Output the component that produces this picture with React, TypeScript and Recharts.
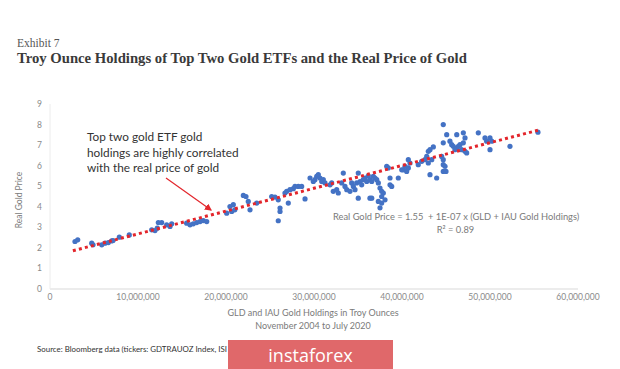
import React from "react";
import { Scatter, ScatterChart, XAxis, YAxis } from "recharts";

// holdings in millions of troy ounces
const holdings = [
  2.84, 3.15, 4.74, 4.89, 5.88, 6.25, 6.63, 7.01, 7.16, 7.88, 9.01,
  11.56, 11.93, 12.19, 12.31, 12.69, 13.26, 13.64, 13.83, 15.53, 15.91,
  16.28, 16.67, 17.05, 17.42, 17.81, 20.08, 20.45, 20.83, 20.65, 21.0,
  21.97, 22.27, 22.53, 22.73, 23.49, 25.19, 25.57, 25.94, 26.14, 26.14,
  25.94, 26.7, 26.9, 27.27, 27.65, 27.08, 27.84, 28.22, 28.6, 28.98,
  29.55, 29.92, 30.11, 30.31, 30.49, 30.68, 30.88, 31.06, 31.25, 31.82,
  32.01, 32.19, 32.58, 32.76, 33.15, 33.33, 33.52, 33.72, 34.09, 34.28,
  34.47, 34.66, 34.85, 35.03, 35.23, 35.42, 35.6, 35.8, 35.99, 36.17,
  36.36, 36.56, 36.74, 36.93, 37.13, 37.31, 37.5, 37.69, 37.88, 37.69,
  38.07, 37.31, 37.69, 35.03, 36.36, 36.56, 37.5, 38.26, 38.44, 38.64,
  38.64, 38.83, 39.58, 39.97, 40.15, 40.34, 40.53, 40.72, 40.72, 40.91,
  41.85, 42.24, 42.61, 42.81, 42.99, 43.38, 42.99, 43.18, 43.56, 43.18,
  43.94, 44.51, 44.69, 44.69, 44.89, 44.69, 45.0, 44.69, 45.08, 44.69,
  45.45, 45.65, 45.83, 46.02, 46.22, 46.4, 46.59, 46.78, 46.97, 47.16,
  46.97, 46.22, 47.16, 47.35, 48.67, 49.43, 49.62, 50.0, 50.19, 50.0,
  52.27, 55.45,
];

const realPrice = [
  2.31, 2.39, 2.23, 2.15, 2.15, 2.23, 2.26, 2.34, 2.36, 2.52, 2.63,
  2.88, 2.84, 2.96, 3.23, 3.23, 3.12, 3.04, 3.17, 3.2, 3.12,
  3.17, 3.23, 3.28, 3.33, 3.28, 3.69, 4.01, 4.1, 3.77, 3.85,
  4.55, 4.5, 4.26, 3.85, 4.18, 4.5, 4.47, 4.34, 3.94, 3.77,
  3.32, 4.67, 4.75, 4.83, 4.88, 4.18, 4.99, 4.99, 4.99, 4.38,
  5.4, 5.23, 5.32, 5.48, 5.56, 5.4, 5.23, 5.32, 5.16, 5.07,
  5.16, 4.75, 4.83, 4.67, 5.16, 5.64, 4.99, 4.83, 4.75, 5.16,
  4.99, 4.83, 5.16, 5.64, 5.23, 5.07, 5.32, 5.4, 5.23, 5.51,
  5.32, 5.23, 5.48, 5.4, 5.32, 5.16, 4.91, 4.75, 4.67, 4.5,
  4.34, 4.26, 4.18, 4.42, 4.42, 4.42, 3.95, 5.97, 5.89, 5.4,
  5.07, 4.99, 5.4, 5.8, 5.8, 5.97, 5.72, 5.89, 6.29, 6.13,
  6.05, 6.21, 6.29, 6.45, 6.13, 6.29, 6.7, 6.78, 6.91, 5.56,
  5.4, 6.45, 6.29, 6.05, 5.97, 5.72, 5.72, 8.0, 7.51, 7.11,
  7.19, 7.02, 6.94, 6.78, 6.86, 6.94, 7.02, 6.78, 7.11, 7.35,
  7.6, 7.51, 6.7, 6.62, 7.6, 7.35, 7.19, 7.35, 7.19, 6.78,
  6.94, 7.63,
];

// fitted trend, start and end of the dotted line
const trendHoldings = [2.6, 55.7];
const trendPrice = [1.86, 7.75];

const xTicks = [0, 10, 20, 30, 40, 50, 60];
const yTicks = [0, 1, 2, 3, 4, 5, 6, 7, 8, 9];

const points = holdings.map((h, i) => ({ x: h * 1e6, y: realPrice[i] }));
const trend = trendHoldings.map((h, i) => ({ x: h * 1e6, y: trendPrice[i] }));

const sans = "Lato, 'Open Sans', sans-serif";
const tickStyle = { fontSize: 8.5, fill: "#8a8a8a", fontFamily: sans };

const Dot = (props: any) => (
  <circle cx={props.cx} cy={props.cy} r={2.6} fill="#4472c4" />
);

export default function App() {
  return (
    <div
      style={{
        position: "absolute",
        left: 0,
        top: 0,
        width: 620,
        height: 369,
        background: "#fff",
        overflow: "hidden",
      }}
    >
      <div
        style={{
          position: "absolute",
          left: 17,
          top: 37,
          fontFamily: "'Liberation Serif', serif",
          fontSize: 11.5,
          color: "#555",
        }}
      >
        Exhibit 7
      </div>
      <div
        style={{
          position: "absolute",
          left: 17,
          top: 50,
          fontFamily: "'Liberation Serif', serif",
          fontSize: 14.7,
          fontWeight: "bold",
          color: "#3a3a3a",
          whiteSpace: "nowrap",
        }}
      >
        Troy Ounce Holdings of Top Two Gold ETFs and the Real Price of Gold
      </div>

      <div style={{ position: "absolute", left: 0, top: 0 }}>
        <ScatterChart
          width={620}
          height={369}
          margin={{ top: 104, right: 42, bottom: 60, left: 30 }}
        >
          <XAxis
            type="number"
            dataKey="x"
            domain={[0, 60000000]}
            ticks={xTicks.map((t) => t * 1e6)}
            tickFormatter={(v) => v.toLocaleString("en-US")}
            tick={tickStyle}
            tickLine={false}
            tickSize={0}
            tickMargin={5}
            axisLine={{ stroke: "#d9d9d9" }}
            height={20}
            interval={0}
          />
          <YAxis
            type="number"
            dataKey="y"
            domain={[0, 9]}
            ticks={yTicks}
            tick={tickStyle}
            tickLine={false}
            tickSize={0}
            tickMargin={8}
            axisLine={{ stroke: "#ececec" }}
            width={20}
            interval={0}
          />
          <Scatter data={points} shape={Dot} isAnimationActive={false} />
          <Scatter
            data={trend}
            shape={() => <g />}
            line={{
              stroke: "#e3262c",
              strokeWidth: 3,
              strokeDasharray: "3 3.2",
            }}
            isAnimationActive={false}
          />
        </ScatterChart>
      </div>

      <svg
        width={620}
        height={369}
        style={{ position: "absolute", left: 0, top: 0 }}
      >
        <defs>
          <marker
            id="arrow"
            markerWidth="6"
            markerHeight="6"
            refX="5"
            refY="3"
            orient="auto"
          >
            <path d="M0,0 L6,3 L0,6 z" fill="#e3262c" />
          </marker>
        </defs>
        <line
          x1={166}
          y1={178}
          x2={211}
          y2={210}
          stroke="#e3262c"
          strokeWidth={1.2}
          markerEnd="url(#arrow)"
        />
      </svg>

      <div
        style={{
          position: "absolute",
          left: 87,
          top: 129,
          fontFamily: sans,
          fontSize: 11.8,
          lineHeight: "15.6px",
          color: "#333",
          whiteSpace: "nowrap",
        }}
      >
        Top two gold ETF gold
        <br />
        holdings are highly correlated
        <br />
        with the real price of gold
      </div>

      <div
        style={{
          position: "absolute",
          left: 333,
          top: 211,
          width: 245,
          fontFamily: sans,
          fontSize: 9.3,
          lineHeight: "12.5px",
          color: "#7a7a7a",
          textAlign: "center",
          whiteSpace: "nowrap",
        }}
      >
        Real Gold Price = 1.55&nbsp; + 1E-07 x (GLD + IAU Gold Holdings)
        <br />
        R² = 0.89
      </div>

      <div
        style={{
          position: "absolute",
          left: 19,
          top: 200,
          width: 0,
          height: 0,
        }}
      >
        <div
          style={{
            position: "absolute",
            left: -50,
            top: -6,
            width: 100,
            textAlign: "center",
            transform: "rotate(-90deg)",
            fontFamily: sans,
            fontSize: 8.5,
            color: "#7a7a7a",
            lineHeight: "12px",
          }}
        >
          Real Gold Price
        </div>
      </div>

      <div
        style={{
          position: "absolute",
          left: 163,
          top: 306,
          width: 300,
          textAlign: "center",
          fontFamily: sans,
          fontSize: 9,
          lineHeight: "13px",
          color: "#7a7a7a",
        }}
      >
        GLD and IAU Gold Holdings in Troy Ounces
        <br />
        November 2004 to July 2020
      </div>

      <div
        style={{
          position: "absolute",
          left: 37,
          top: 344,
          fontFamily: sans,
          fontSize: 7.9,
          color: "#333",
          whiteSpace: "nowrap",
        }}
      >
        Source: Bloomberg data (tickers: GDTRAUOZ Index, ISI
      </div>

      <div
        style={{
          position: "absolute",
          left: 228,
          top: 340,
          width: 165,
          height: 29,
          background: "#e0686a",
          color: "#fff",
          fontFamily: "'Open Sans', sans-serif",
          fontSize: 18,
          lineHeight: "30px",
          textAlign: "center",
        }}
      >
        instaforex
      </div>
    </div>
  );
}
